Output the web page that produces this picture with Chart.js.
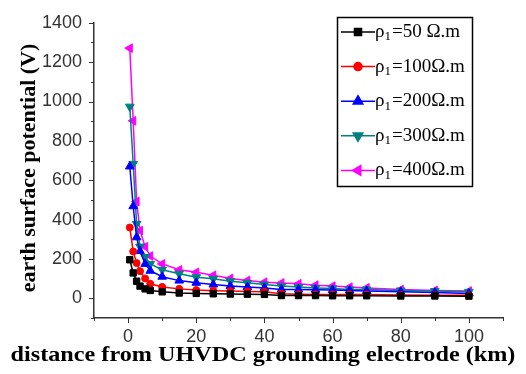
<!DOCTYPE html>
<html>
<head>
<meta charset="utf-8">
<script src="https://cdn.jsdelivr.net/npm/chart.js@4.4.1/dist/chart.umd.min.js"></script>
<style>
  body { margin: 0; background: #fff; }
  #wrap { width: 526px; height: 374px; }
</style>
</head>
<body>
<div id="wrap"><canvas id="potential-chart" width="526" height="374"></canvas></div>
<script>
// distance from the grounding electrode (km)
const distanceKm = [0.5, 1.5, 2.5, 3.5, 5, 6.5, 10, 15, 20, 25, 30, 35, 40, 45, 50, 55, 60, 65, 70, 80, 90, 100];

// earth surface potential (V) for each soil resistivity
const rho50 = [196, 129, 87, 62, 48, 40, 33, 27, 25, 23, 22, 21, 20, 14, 14, 14, 13, 13, 13, 12, 12, 11];
const rho100 = [360, 238, 179, 138, 101, 74, 58, 48, 42, 39, 37, 35, 33, 23, 21, 20, 20, 20, 19, 17, 16, 15];
const rho200 = [670, 468, 310, 240, 175, 140, 110, 90, 79, 70, 62, 57, 53, 45, 45, 44, 42, 40, 37, 33, 29, 25];
const rho300 = [974, 683, 378, 263, 210, 175, 145, 125, 107, 99, 87, 79, 70, 62, 57, 53, 50, 45, 45, 40, 37, 33];
const rho400 = [1271, 902, 492, 344, 262, 215, 175, 145, 132, 117, 101, 91, 82, 78, 74, 67, 62, 57, 53, 45, 40, 37];

// legend texts (rho with subscript 1)
const legendValues = ['50 \u03A9.m', '100\u03A9.m', '200\u03A9.m', '300\u03A9.m', '400\u03A9.m'];

const yTicks = { min: -100, max: 1400, step: 100, labelEvery: 200 };
const xTicks = { min: -10, max: 110, step: 10, labelEvery: 20 };

function toPoints(values) {
    return values.map((v, i) => ({ x: distanceKm[i], y: v }));
}

function makeSet(values, label, color, style, rotation, radius) {
    return {
        label: label,
        data: toPoints(values),
        borderColor: color,
        backgroundColor: color,
        borderWidth: 1.5,
        pointStyle: style,
        pointRotation: rotation,
        pointRadius: radius,
        pointBorderWidth: 1,
        tension: 0
    };
}

// outward tick marks, long for labelled values and short for the rest
const tickMarks = {
    id: 'tickMarks',
    afterDraw(chart) {
        const ctx = chart.ctx;
        const xs = chart.scales.x, ys = chart.scales.y;
        ctx.save();
        ctx.strokeStyle = '#333';
        ctx.lineWidth = 1;
        ys.ticks.forEach(t => {
            const py = Math.round(ys.getPixelForValue(t.value)) + 0.5;
            const len = t.value % yTicks.labelEvery === 0 ? 5 : 3;
            ctx.beginPath();
            ctx.moveTo(ys.right, py);
            ctx.lineTo(ys.right - len, py);
            ctx.stroke();
        });
        xs.ticks.forEach(t => {
            const px = Math.round(xs.getPixelForValue(t.value)) + 0.5;
            const len = t.value % xTicks.labelEvery === 0 ? 5 : 3;
            ctx.beginPath();
            ctx.moveTo(px, xs.top);
            ctx.lineTo(px, xs.top + len);
            ctx.stroke();
        });

        // axis titles
        ctx.fillStyle = '#000';
        ctx.textAlign = 'center';
        ctx.textBaseline = 'middle';
        ctx.save();
        ctx.font = 'bold 22px "Liberation Serif"';
        ctx.translate(263, 355);
        ctx.scale(1.1, 1);
        ctx.fillText('distance from UHVDC grounding electrode (km)', 0, 0);
        ctx.restore();
        ctx.font = 'bold 22px "Liberation Serif"';
        ctx.translate(29, 168);
        ctx.rotate(-Math.PI / 2);
        ctx.fillText('earth surface potential (V)', 0, 0);
        ctx.restore();
    }
};

// boxed legend with subscript text
const boxLegend = {
    id: 'boxLegend',
    afterDraw(chart) {
        const ctx = chart.ctx;
        ctx.save();
        ctx.strokeStyle = '#000';
        ctx.lineWidth = 1.5;
        ctx.strokeRect(337.5, 17.5, 135, 169);
        chart.data.datasets.forEach((ds, i) => {
            const y = 32 + i * 34.6;
            ctx.strokeStyle = ds.borderColor;
            ctx.lineWidth = 1.5;
            ctx.beginPath();
            ctx.moveTo(341, y);
            ctx.lineTo(375, y);
            ctx.stroke();
            ctx.fillStyle = ds.backgroundColor;
            Chart.helpers.drawPoint(ctx, {
                pointStyle: ds.pointStyle,
                rotation: ds.pointRotation,
                radius: ds.pointRadius + 0.5,
                borderWidth: 1
            }, 358, y);
            ctx.fillStyle = '#000';
            ctx.textAlign = 'left';
            ctx.textBaseline = 'middle';
            ctx.font = '19px "Liberation Serif"';
            ctx.fillText('\u03C1', 375, y);
            let w = ctx.measureText('\u03C1').width;
            ctx.font = '13px "Liberation Serif"';
            ctx.fillText('1', 375 + w, y + 5);
            w += ctx.measureText('1').width + 1;
            ctx.font = '19px "Liberation Serif"';
            ctx.fillText('=' + legendValues[i], 375 + w, y);
        });
        ctx.restore();
    }
};

function createChart() {
    const ctx = document.getElementById('potential-chart').getContext('2d');
    new Chart(ctx, {
        type: 'line',
        data: {
            datasets: [
                makeSet(rho50, 'rho1=50', '#000000', 'rect', 0, 4.5),
                makeSet(rho100, 'rho1=100', '#ff0000', 'circle', 0, 3.5),
                makeSet(rho200, 'rho1=200', '#0000ff', 'triangle', 0, 5),
                makeSet(rho300, 'rho1=300', '#008080', 'triangle', 180, 5),
                makeSet(rho400, 'rho1=400', '#ff00ff', 'triangle', -90, 5)
            ]
        },
        options: {
            responsive: false,
            animation: false,
            layout: { padding: { top: 19, right: 23, left: 0, bottom: 0 } },
            plugins: {
                legend: { display: false },
                tooltip: { enabled: false }
            },
            scales: {
                x: {
                    type: 'linear',
                    min: xTicks.min,
                    max: xTicks.max,
                    afterFit(scale) { scale.height = 56; },
                    grid: { display: false, drawTicks: false },
                    border: { display: true, color: '#333', width: 1.5 },
                    ticks: {
                        stepSize: xTicks.step,
                        autoSkip: false,
                        maxRotation: 0,
                        padding: 8,
                        color: '#333',
                        font: { family: '"Liberation Sans"', size: 18 },
                        callback: v => (v % xTicks.labelEvery === 0 ? v : '')
                    }
                },
                y: {
                    min: yTicks.min,
                    max: yTicks.max,
                    afterFit(scale) { scale.width = 94; },
                    grid: { display: false, drawTicks: false },
                    border: { display: true, color: '#333', width: 1.5 },
                    ticks: {
                        stepSize: yTicks.step,
                        autoSkip: false,
                        padding: 12,
                        color: '#333',
                        font: { family: '"Liberation Sans"', size: 18 },
                        callback: v => (v % yTicks.labelEvery === 0 ? v : '')
                    }
                }
            }
        },
        plugins: [tickMarks, boxLegend]
    });
}

createChart();
</script>
</body>
</html>
